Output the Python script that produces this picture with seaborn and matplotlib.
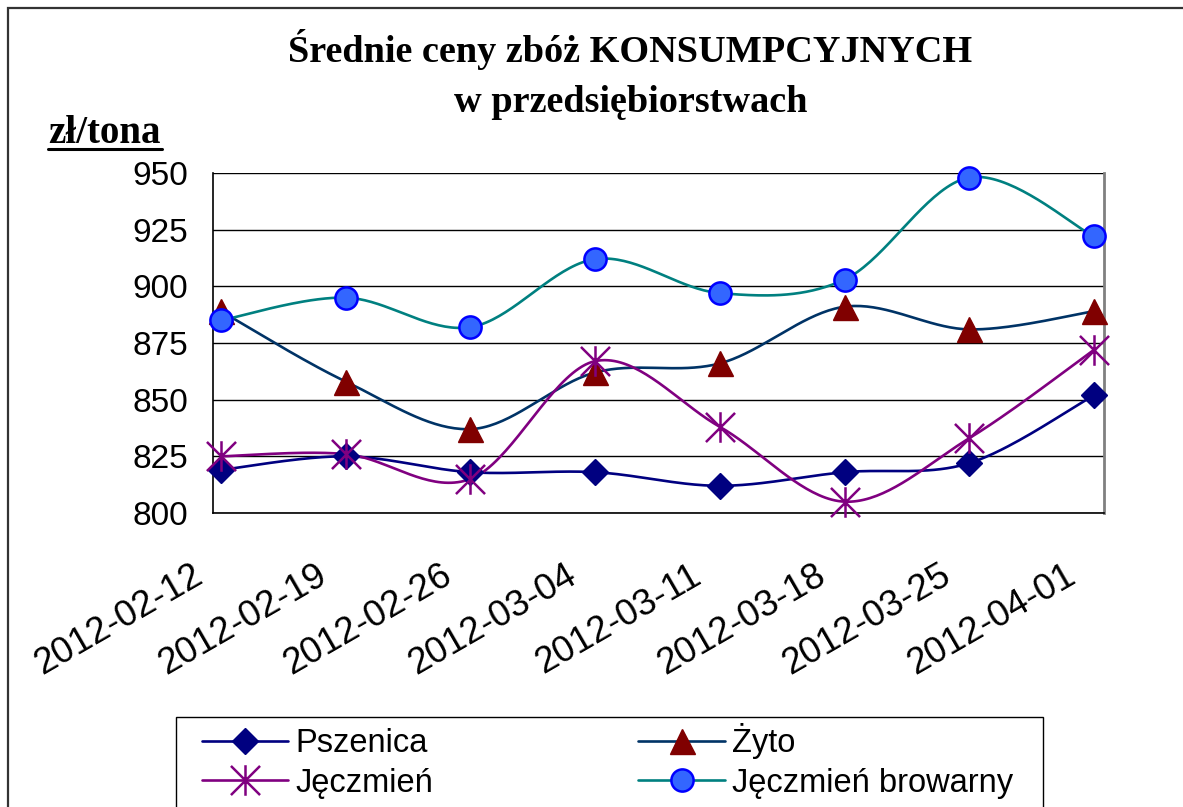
import numpy as np
import pandas as pd
import matplotlib
matplotlib.use("Agg")
import matplotlib.pyplot as plt
from matplotlib.lines import Line2D
from matplotlib.patches import Rectangle
from matplotlib.path import Path
from matplotlib.transforms import ScaledTranslation
import seaborn as sns

# --- data (zł/tona) ---
dates = ['2012-02-12', '2012-02-19', '2012-02-26', '2012-03-04',
         '2012-03-11', '2012-03-18', '2012-03-25', '2012-04-01']
pszenica = [819, 825, 818, 818, 812, 818, 822, 852]
zyto = [889, 858, 837, 862, 866, 891, 881, 889]
jeczmien = [825, 826, 815, 867, 838, 805, 833, 872]
browarny = [885, 895, 882, 912, 897, 903, 948, 922]
names = ['Pszenica', 'Żyto', 'Jęczmień', 'Jęczmień browarny']
y_ticks = [800, 825, 850, 875, 900, 925, 950]

W, H = 1183, 807


def px_x(p):
    return p / W


def px_y(p):
    return 1 - p / H


def smooth(xs, ys, n=40):
    """Excel style smoothed line: bezier segments through every point."""
    xs = np.asarray(xs, float)
    ys = np.asarray(ys, float)
    px = np.concatenate([[xs[0]], xs, [xs[-1]]])
    py = np.concatenate([[ys[0]], ys, [ys[-1]]])
    t = np.linspace(0, 1, n)[:, None]
    out = []
    for i in range(1, len(px) - 2):
        p0 = np.array([px[i], py[i]])
        p3 = np.array([px[i + 1], py[i + 1]])
        c1 = p0 + (p3 - np.array([px[i - 1], py[i - 1]])) / 6
        c2 = p3 - (np.array([px[i + 2], py[i + 2]]) - p0) / 6
        seg = ((1 - t) ** 3) * p0 + 3 * ((1 - t) ** 2) * t * c1 \
            + 3 * (1 - t) * t ** 2 * c2 + t ** 3 * p3
        out.append(seg if i == 1 else seg[1:])
    out = np.vstack(out)
    return out[:, 0], out[:, 1]


# asterisk marker like the Excel "star"
star = Path([(-1, -1), (1, 1), (-1, 1), (1, -1), (0, -1.05), (0, 1.05)],
            [Path.MOVETO, Path.LINETO, Path.MOVETO, Path.LINETO,
             Path.MOVETO, Path.LINETO])

styles = {
    'Pszenica': dict(line='#000080', marker='D', ms=13, mfc='#000080',
                     mec='#000080', mew=1),
    'Żyto': dict(line='#003366', marker='^', ms=18, mfc='#800000',
                 mec='#800000', mew=1),
    'Jęczmień': dict(line='#800080', marker=star, ms=22, mfc='none',
                     mec='#800080', mew=1.8),
    'Jęczmień browarny': dict(line='#008080', marker='o', ms=16,
                              mfc='#3366FF', mec='#0000FF', mew=1.8),
}

sns.set_theme(style='white')
plt.rcParams['font.family'] = ['Liberation Sans', 'DejaVu Sans']
plt.rcParams['text.color'] = 'black'

fig = plt.figure(figsize=(W / 100, H / 100), dpi=100)
ax = fig.add_axes([px_x(213), px_y(513), (1104 - 213) / W, (513 - 173) / H])

x = np.arange(len(dates))
handles = {}
for name, vals in zip(names, [pszenica, zyto, jeczmien, browarny]):
    st = styles[name]
    sx, sy = smooth(x, vals)
    sns.lineplot(x=sx, y=sy, sort=False, estimator=None, color=st['line'],
                 lw=1.9, ax=ax, zorder=3)
    ax.plot(x, vals, ls='none', marker=st['marker'], ms=st['ms'],
            mfc=st['mfc'], mec=st['mec'], mew=st['mew'], zorder=4,
            clip_on=False)
    handles[name] = Line2D([], [], color=st['line'], lw=1.9,
                           marker=st['marker'], ms=st['ms'], mfc=st['mfc'],
                           mec=st['mec'], mew=st['mew'])

ax.set_xlim(-0.064, 7.08)
ax.set_ylim(800, 950)
ax.set_yticks(y_ticks)
ax.set_yticklabels([str(v) for v in y_ticks], fontsize=24)
ax.set_xticks(x - 0.064)
ax.set_xticklabels(dates, fontsize=26.5, rotation=30, ha='right',
                   rotation_mode='anchor')
ax.tick_params(axis='both', direction='out', length=8, width=1.2,
               color='#555555', labelcolor='black')
ax.tick_params(axis='y', pad=10)
ax.tick_params(axis='x', pad=10)
shift = ScaledTranslation(-22 / 100, -20 / 100, fig.dpi_scale_trans)
for lab in ax.get_xticklabels():
    lab.set_transform(lab.get_transform() + shift)
ax.yaxis.grid(True, color='black', lw=1)
ax.xaxis.grid(False)
ax.set_axisbelow(True)
for side in ['left', 'bottom']:
    ax.spines[side].set_color('black')
    ax.spines[side].set_linewidth(1.2)
ax.spines['top'].set_visible(False)
ax.spines['right'].set_color('#808080')
ax.spines['right'].set_linewidth(2)
ax.set_xlabel('')
ax.set_ylabel('')

# title and unit label
serif = ['Liberation Serif', 'DejaVu Serif']
fig.text(px_x(630), px_y(50), 'Średnie ceny zbóż KONSUMPCYJNYCH',
         ha='center', va='center', fontsize=27.5, fontweight='bold',
         family=serif, color='black')
fig.text(px_x(631), px_y(103), 'w przedsiębiorstwach',
         ha='center', va='center', fontsize=27.5, fontweight='bold',
         family=serif, color='black')
fig.text(px_x(48), px_y(143), 'zł/tona', ha='left', va='baseline',
         fontsize=28, fontweight='bold', family=serif, color='black')
fig.add_artist(Line2D([px_x(48), px_x(162)], [px_y(149), px_y(149)],
                      color='black', lw=2.2, transform=fig.transFigure))

# outer chart frame and legend frame (both run past the image edge)
fig.add_artist(Rectangle((px_x(8), -0.1), 1.2, px_y(8) + 0.1, fill=False,
                         ec='#333333', lw=1.6, transform=fig.transFigure))
fig.add_artist(Rectangle((px_x(176), -0.1), (1043 - 176) / W,
                         px_y(717) + 0.1, fill=False, ec='black', lw=1,
                         transform=fig.transFigure))

# legend fills column-wise, so order the entries to get rows as in the chart
order = ['Pszenica', 'Jęczmień', 'Żyto', 'Jęczmień browarny']
fig.legend([handles[n] for n in order], order, ncol=2, loc='center left',
           bbox_to_anchor=(px_x(202), px_y(761)), frameon=False,
           fontsize=23.5, borderpad=0, borderaxespad=0,
           handlelength=2.65, handletextpad=0.22, columnspacing=6.28,
           labelspacing=0.25, labelcolor='black')

fig.savefig('out.png', dpi=100)
